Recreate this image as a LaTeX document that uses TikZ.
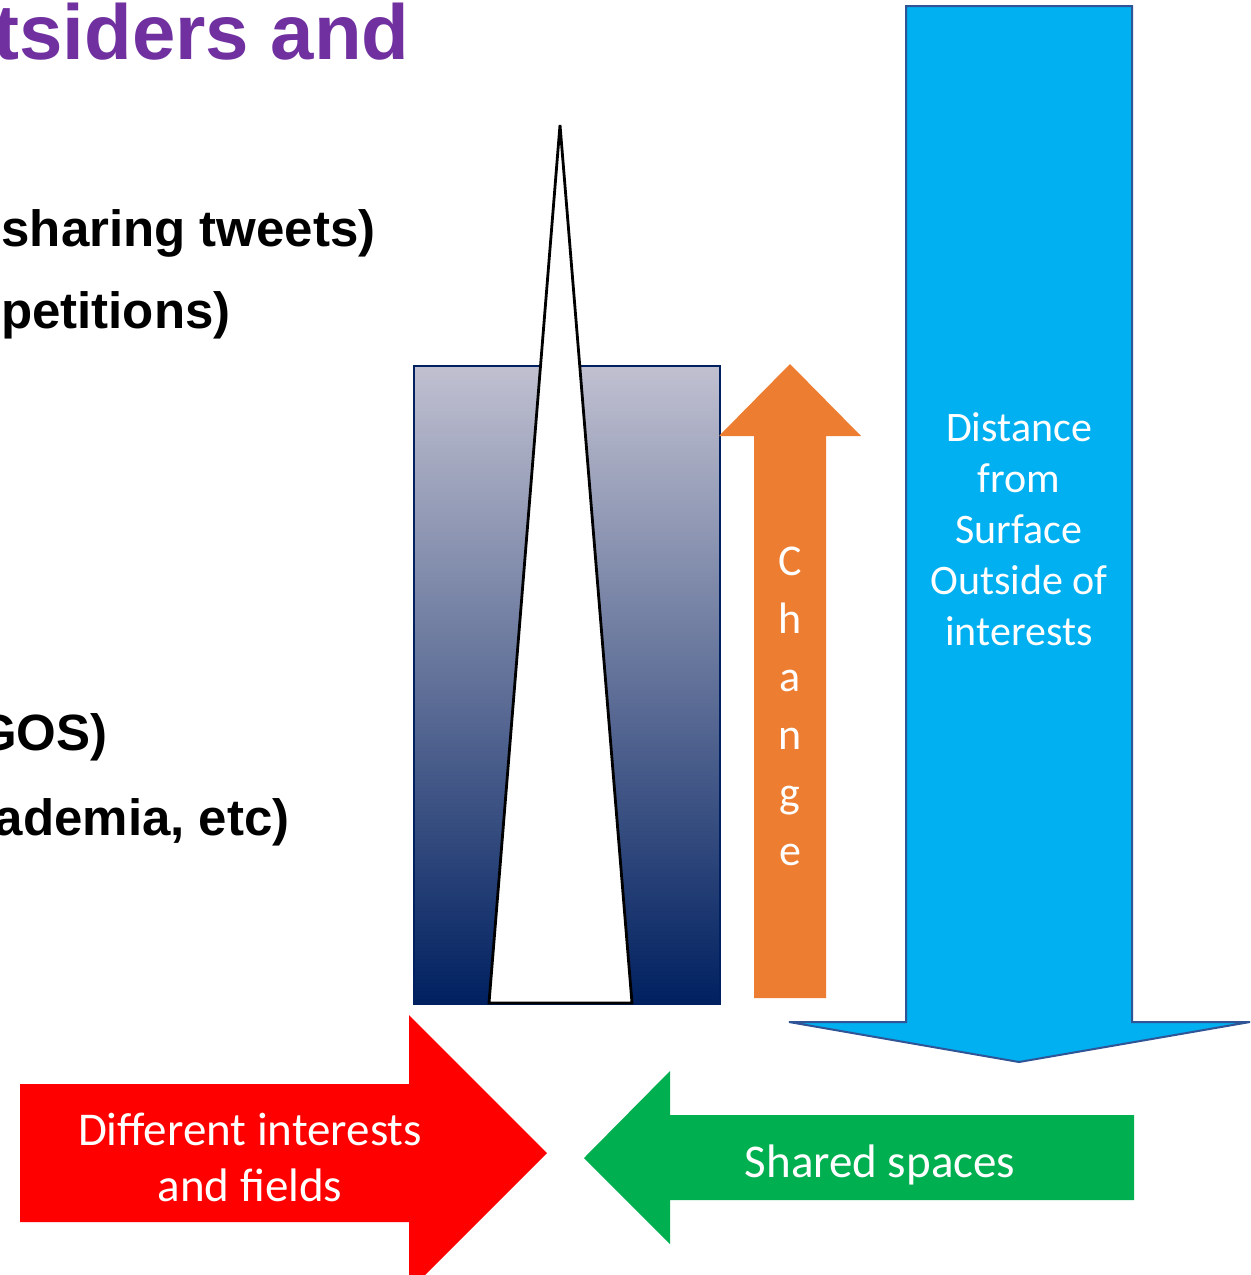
\documentclass[tikz,border=0pt]{standalone}
\usepackage{fontspec}
\setmainfont{Carlito}
\newfontfamily\arialf{Liberation Sans}
\definecolor{ttlpurple}{HTML}{7030A0}
\definecolor{arrorange}{HTML}{ED7D31}
\definecolor{arrblue}{HTML}{00B0F0}
\definecolor{arrblueedge}{HTML}{2F5597}
\definecolor{arrred}{HTML}{FF0000}
\definecolor{arrgreen}{HTML}{00B050}
\definecolor{navyc}{HTML}{002060}
\definecolor{gradtop}{HTML}{C0C0D0}
\begin{document}
\begin{tikzpicture}[x=0.5pt,y=-0.5pt,
  bullettxt/.style={font=\arialf\bfseries\fontsize{25.5}{30}\selectfont, anchor=base east, inner sep=0pt},
  disttxt/.style={font=\fontsize{21}{25}\selectfont, text=white, anchor=base, inner sep=0pt},
  chgtxt/.style={font=\fontsize{22}{26}\selectfont, text=white, anchor=base, inner sep=0pt},
  bigtxt/.style={font=\fontsize{23.5}{28}\selectfont, text=white, anchor=base, inner sep=0pt}]
\useasboundingbox (0,0) rectangle (1251,1275);

% title and bullet fragments
\node[anchor=base east, inner sep=0pt, text=ttlpurple, font=\arialf\bfseries\fontsize{39}{46}\selectfont] (title) at (410,59) {tsiders and};
\node[bullettxt] (b1) at (376,246) {sharing tweets)};
\node[bullettxt] (b2) at (231,328) {petitions)};
\node[bullettxt] (b3) at (108,750) {GOS)};
\node[bullettxt] (b4) at (290,835) {ademia, etc)};

% gradient block
\shade[top color=gradtop, bottom color=navyc, draw=navyc, line width=1pt] (414,366) rectangle (720,1004);
% spike
\draw[fill=white, line width=1.4pt] (560,125) -- (632,1003) -- (489,1003) -- cycle;

% orange up arrow
\fill[arrorange] (754,998) -- (754,436) -- (719,436) -- (790,364) -- (861,436) -- (826,436) -- (826,998) -- cycle;
\foreach \l [count=\i from 0] in {C,h,a,n,g,e}
  \node[chgtxt] (c\i) at (790,{575+58*\i}) {\l};

% blue down arrow
\draw[fill=arrblue, draw=arrblueedge, line width=1pt, line join=miter] (906,6) -- (1132,6) -- (1132,1022) -- (1250,1022) -- (1019,1062) -- (789,1022) -- (906,1022) -- cycle;
\node[disttxt] (d1) at (1019,441) {Distance};
\node[disttxt] (d2) at (1019,492) {from};
\node[disttxt] (d3) at (1019,543) {Surface};
\node[disttxt] (d4) at (1019,594) {Outside of};
\node[disttxt] (d5) at (1019,645) {interests};

% red right arrow
\fill[arrred] (20,1084) -- (409,1084) -- (409,1015) -- (547,1153) -- (409,1291) -- (409,1222) -- (20,1222) -- cycle;
\node[bigtxt] (r1) at (250,1145) {Different interests};
\node[bigtxt] (r2) at (250,1201) {and fields};

% green left arrow
\fill[arrgreen] (1134,1115) -- (670,1115) -- (670,1071) -- (584,1158) -- (670,1244) -- (670,1200) -- (1134,1200) -- cycle;
\node[bigtxt] (g1) at (880,1177) {Shared spaces};
\end{tikzpicture}
\end{document}
